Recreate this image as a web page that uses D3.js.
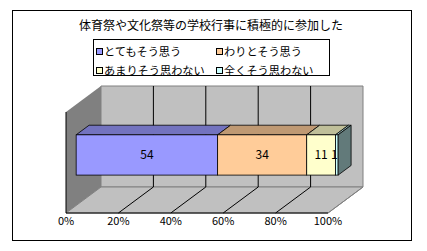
<!DOCTYPE html>
<html>
<head>
<meta charset="utf-8">
<script src="https://cdn.jsdelivr.net/npm/d3@7"></script>
<style>
  body { margin: 0; background: #fff; }
  text { font-family: "Noto Sans CJK JP", sans-serif; }
</style>
</head>
<body>
<script>
let title = "体育祭や文化祭等の学校行事に積極的に参加した";
let category = "参加";
let seriesNames = ["とてもそう思う", "わりとそう思う", "あまりそう思わない", "全くそう思わない"];
let values = [54, 34, 11, 1];
let colors = ["#9999FF", "#FFCC99", "#FFFFCC", "#CCFFFF"];
let tickValues = [0, 20, 40, 60, 80, 100];

let w = 427;
let h = 251;

// 3d look: depth offset of the walls, and where the bar sits inside it
let depthX = 35, depthY = 26;
let d0 = 0.29, d1 = 0.66;

let shade = function(c, k) {
  let r = d3.rgb(c);
  return d3.rgb(r.r * k, r.g * k, r.b * k).formatHex();
};

let xScale = d3.scaleLinear().domain([0, 100]).range([66, 328]);
let yScale = d3.scaleBand().domain([category]).range([112, 213]).padding(0.43);

let px = (v, d) => xScale(v) + depthX * d;
let py = (y, d) => y - depthY * d;

let row = {};
seriesNames.forEach((s, i) => { row[s] = values[i]; });
let stacked = d3.stack().keys(seriesNames)([row]);

let svg = d3.select("body")
  .append("svg")
  .attr("width", w)
  .attr("height", h);

// chart area border
svg.append("rect")
  .attr("x", 12.5).attr("y", 10.5)
  .attr("width", 399).attr("height", 230)
  .attr("fill", "#fff")
  .attr("stroke", "#000");

let yTop = yScale.range()[0], yBot = yScale.range()[1];

// back wall
svg.append("polygon")
  .attr("points", [[px(0, 1), py(yTop, 1)], [px(100, 1), py(yTop, 1)],
                   [px(100, 1), py(yBot, 1)], [px(0, 1), py(yBot, 1)]].join(" "))
  .attr("fill", "#C0C0C0")
  .attr("stroke", "#808080");

// floor
svg.append("polygon")
  .attr("points", [[px(0, 0), py(yBot, 0)], [px(0, 1), py(yBot, 1)],
                   [px(100, 1), py(yBot, 1)], [px(100, 0), py(yBot, 0)]].join(" "))
  .attr("fill", "#C0C0C0")
  .attr("stroke", "#808080");

// left side wall
svg.append("polygon")
  .attr("points", [[px(0, 0), py(yTop, 0)], [px(0, 1), py(yTop, 1)],
                   [px(0, 1), py(yBot, 1)], [px(0, 0), py(yBot, 0)]].join(" "))
  .attr("fill", "#808080");

// gridlines on back wall and floor
let inner = tickValues.filter(t => t > 0 && t < 100);
svg.selectAll(".grid")
  .data(inner)
  .enter()
  .append("line")
  .attr("x1", t => px(t, 1)).attr("x2", t => px(t, 1))
  .attr("y1", py(yTop, 1)).attr("y2", py(yBot, 1))
  .attr("stroke", "#000");

svg.selectAll(".floorline")
  .data(tickValues.filter(t => t > 0))
  .enter()
  .append("line")
  .attr("x1", t => px(t, 0)).attr("y1", py(yBot, 0))
  .attr("x2", t => px(t, 1)).attr("y2", py(yBot, 1))
  .attr("stroke", t => t == 100 ? "#808080" : "#000");

// axis lines
svg.append("line")
  .attr("x1", px(0, 0)).attr("x2", px(100, 0))
  .attr("y1", py(yBot, 0)).attr("y2", py(yBot, 0))
  .attr("stroke", "#000");
svg.append("line")
  .attr("x1", px(0, 0)).attr("x2", px(0, 0))
  .attr("y1", py(yTop, 0)).attr("y2", py(yBot, 0))
  .attr("stroke", "#000");

// bar segments
let by0 = yScale(category), by1 = yScale(category) + yScale.bandwidth();

stacked.forEach((s, i) => {
  let a = s[0][0], b = s[0][1];
  // top face
  svg.append("polygon")
    .attr("points", [[px(a, d0), py(by0, d0)], [px(b, d0), py(by0, d0)],
                     [px(b, d1), py(by0, d1)], [px(a, d1), py(by0, d1)]].join(" "))
    .attr("fill", shade(colors[i], 0.75))
    .attr("stroke", "#000")
    .attr("stroke-width", 0.8);
  // front face
  svg.append("rect")
    .attr("x", px(a, d0)).attr("y", py(by0, d0))
    .attr("width", px(b, d0) - px(a, d0))
    .attr("height", by1 - by0)
    .attr("fill", colors[i])
    .attr("stroke", "#000")
    .attr("stroke-width", 0.8);
});

// right end of the bar
let last = stacked[stacked.length - 1][0][1];
svg.append("polygon")
  .attr("points", [[px(last, d0), py(by0, d0)], [px(last, d1), py(by0, d1)],
                   [px(last, d1), py(by1, d1)], [px(last, d0), py(by1, d0)]].join(" "))
  .attr("fill", shade(colors[colors.length - 1], 0.48))
  .attr("stroke", "#000")
  .attr("stroke-width", 0.8);

// data labels (the thin last one sits just left of its segment)
svg.selectAll(".val")
  .data(stacked)
  .enter()
  .append("text")
  .text(s => s[0].data[s.key])
  .attr("x", (s, i) => (px(s[0][0], d0) + px(s[0][1], d0)) / 2 - (i == stacked.length - 1 ? 2.5 : 0))
  .attr("y", (py(by0, d0) + py(by1, d0)) / 2 + 4)
  .attr("text-anchor", "middle")
  .attr("font-size", "12px")
  .attr("fill", "#000");

// x axis labels
svg.selectAll(".tick")
  .data(tickValues)
  .enter()
  .append("text")
  .text(t => t + "%")
  .attr("x", t => px(t, 0))
  .attr("y", 224.5)
  .attr("text-anchor", "middle")
  .attr("font-size", "11px")
  .attr("fill", "#000");

// title
svg.append("text")
  .text(title)
  .attr("x", 211)
  .attr("y", 29.5)
  .attr("text-anchor", "middle")
  .attr("font-size", "12px")
  .attr("fill", "#000");

// legend
let lg = svg.append("g");
lg.append("rect")
  .attr("x", 93.5).attr("y", 39.5)
  .attr("width", 236).attr("height", 36)
  .attr("fill", "#fff")
  .attr("stroke", "#000");

let legCols = [96, 216];
let legRows = [48, 67];
let items = lg.selectAll(".item")
  .data(seriesNames)
  .enter()
  .append("g")
  .attr("transform", (d, i) => "translate(" + legCols[i % 2] + "," + legRows[Math.floor(i / 2)] + ")");

items.append("rect")
  .attr("x", 0.5).attr("y", 0.5)
  .attr("width", 6).attr("height", 6)
  .attr("fill", (d, i) => colors[i])
  .attr("stroke", "#000");

items.append("text")
  .text(d => d)
  .attr("x", 8)
  .attr("y", 7.5)
  .attr("font-size", "11.2px")
  .attr("fill", "#000");
</script>
</body>
</html>
